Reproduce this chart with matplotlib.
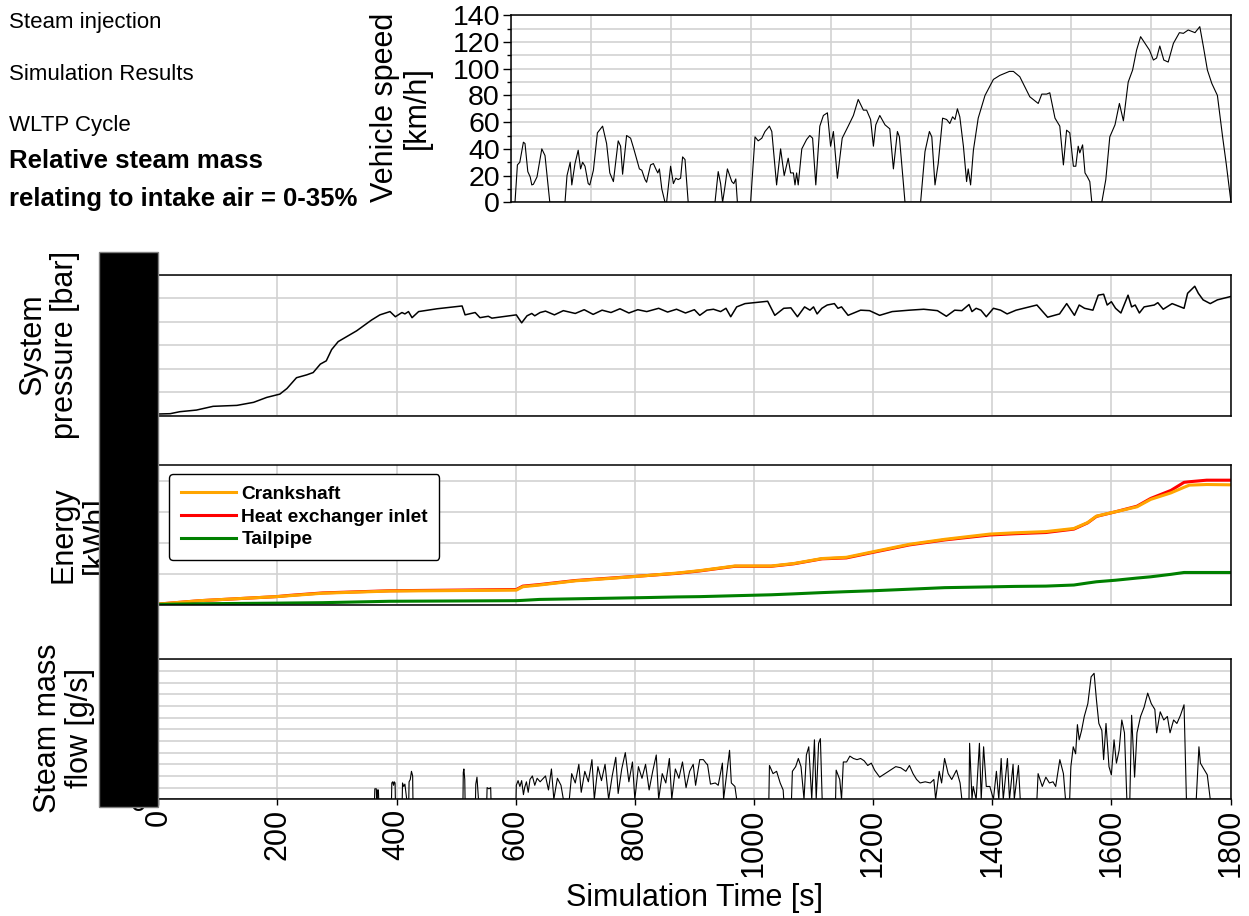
import matplotlib

matplotlib.use("Agg")
import matplotlib.pyplot as plt
from matplotlib.lines import Line2D
from matplotlib.patches import Rectangle
from matplotlib.ticker import MultipleLocator

plt.rcParams["font.family"] = ["Liberation Sans", "DejaVu Sans"]

# ---------------------------------------------------------------------------
# WLTP vehicle speed [km/h]
speed_t = [0, 10, 16, 22, 31, 35, 42, 48, 52, 56, 65, 77, 85, 97, 135, 140, 148, 152, 160, 168,
           174, 179, 185, 193, 197, 206, 216, 229, 239, 247, 256, 268, 274, 279, 289, 299, 307,
           321, 327, 335, 339, 349, 356, 362, 367, 371, 377, 385, 389, 399, 406, 412, 418, 424,
           429, 435, 443, 510, 518, 524, 529, 535, 541, 552, 557, 562, 566, 599, 610, 618, 627,
           635, 646, 652, 664, 674, 683, 693, 699, 706, 710, 714, 718, 727, 739, 747, 754, 762,
           772, 781, 791, 799, 806, 816, 828, 843, 856, 868, 881, 889, 899, 906, 912, 922, 935,
           947, 956, 966, 971, 985, 1024, 1035, 1046, 1052, 1060, 1068, 1079, 1089, 1097, 1104,
           1110, 1116, 1122, 1131, 1139, 1143, 1149, 1156, 1168, 1185, 1206, 1222, 1246, 1256,
           1272, 1297, 1318, 1327, 1339, 1347, 1360, 1368, 1372, 1381, 1389, 1397, 1406, 1412,
           1418, 1422, 1429, 1435, 1441, 1447, 1452, 1477, 1487, 1497, 1510, 1521, 1531, 1543,
           1554, 1564, 1574, 1585, 1596, 1606, 1614, 1622, 1632, 1643, 1656, 1671, 1681, 1693,
           1710, 1722, 1731, 1741, 1752, 1766, 1779, 1788, 1800]
speed_v = [0, 0, 28, 30, 45, 44, 23, 19, 13, 13.5, 19, 40, 35, 0, 0, 20, 30, 13, 29, 39,
           25, 30, 27, 14, 13, 24, 52, 57, 44, 22, 15.5, 46, 42, 21, 50, 48, 40,
           25, 24, 17, 15, 28, 29, 25, 22, 25, 10, 0, 0, 27, 14, 18, 17, 18,
           34, 32, 0, 0, 23, 14, 0, 12, 25, 15.5, 14, 17.5, 0, 0, 49, 46, 48,
           53, 57, 53, 13, 40, 20, 33, 22, 22, 13, 22, 13, 40, 47, 50, 48, 13,
           57, 65, 67, 42, 53, 18, 48, 57, 65, 77, 69, 69, 62, 42, 58, 65, 58,
           55, 25, 53, 49, 0, 0, 38, 53, 49, 13, 29, 63, 62, 59, 64,
           62, 70, 64, 42, 15.5, 25, 13, 39, 63, 80, 92, 95, 98, 98,
           94, 79, 74, 81, 81, 82, 63, 59, 57, 28, 54, 52, 27, 27,
           42, 37, 43, 22, 19, 15.5, 0, 0, 17, 49, 58, 74, 61, 90,
           99, 114, 124, 119, 114, 106.5, 108, 117, 106.5, 105, 119, 127, 126.5, 129,
           127, 131.5, 116.5, 99, 89, 80, 49, 29, 0]

# System pressure [bar]
pressure_t = [0, 20, 36, 64, 92, 132, 160, 182, 204, 216, 232, 249, 260, 272, 282, 291, 302,
              314, 333, 344, 358, 372, 389, 398, 409, 414, 420, 426, 437, 468, 510, 515, 532,
              540, 554, 560, 601, 610, 619, 627, 632, 641, 650, 665, 680, 700, 715, 730, 745,
              760, 775, 790, 805, 820, 840, 855, 870, 885, 900, 909, 921, 932, 944, 953, 961,
              971, 985, 1023, 1035, 1050, 1062, 1073, 1085, 1094, 1100, 1106, 1114, 1123, 1135,
              1141, 1147, 1158, 1179, 1194, 1211, 1232, 1261, 1285, 1308, 1323, 1337, 1349,
              1361, 1366, 1373, 1381, 1390, 1402, 1414, 1425, 1440, 1475, 1493, 1513, 1525,
              1538, 1546, 1555, 1569, 1578, 1587, 1593, 1600, 1607, 1616, 1628, 1634, 1640,
              1647, 1655, 1672, 1678, 1687, 1702, 1722, 1728, 1740, 1746, 1754, 1766, 1778, 1800]
pressure_v = [0.36, 0.43, 0.85, 1.2, 2.0, 2.2, 2.85, 3.9, 4.6, 5.8, 8.1, 8.7, 9.2, 11.0, 11.7,
              14.1, 15.8, 16.7, 18.1, 19.1, 20.4, 21.5, 22.2, 21.1, 22.0, 21.7, 22.2, 20.9, 22.2,
              22.8, 23.4, 21.5, 22.0, 20.9, 21.2, 20.8, 21.5, 19.8, 21.3, 21.8, 21.3, 22.0, 22.3,
              21.5, 22.4, 21.8, 22.6, 21.6, 22.5, 22.0, 22.8, 21.9, 22.6, 22.2, 22.9, 22.1, 22.7,
              21.9, 22.6, 21.4, 22.5, 22.7, 22.2, 22.9, 21.1, 23.2, 23.9, 24.4, 21.4, 22.9, 23.0,
              21.1, 23.2, 22.5, 23.2, 21.7, 22.9, 23.6, 23.9, 22.9, 23.2, 21.4, 22.5, 22.4, 21.4,
              22.2, 22.5, 22.7, 22.4, 21.2, 22.5, 22.4, 23.7, 22.2, 22.9, 22.5, 21.1, 22.9, 22.5,
              21.7, 22.5, 23.6, 21.0, 21.7, 23.9, 21.4, 23.6, 22.9, 22.5, 25.7, 25.9, 23.6, 24.3,
              22.9, 21.9, 25.7, 23.2, 23.6, 21.9, 23.2, 23.6, 24.1, 22.7, 23.9, 22.9, 26.1, 27.6,
              26.1, 24.7, 23.9, 24.7, 25.4]

# Cumulative energy [kWh]
energy_t = [0, 70, 198, 220, 276, 388, 601, 612, 640, 700, 760, 820, 870, 909, 968, 1029, 1067,
            1114, 1155, 1200, 1261, 1320, 1396, 1437, 1490, 1537, 1560, 1575, 1607, 1643, 1666,
            1700, 1722, 1731, 1760, 1800]
crankshaft = [0.03, 0.14, 0.27, 0.30, 0.38, 0.45, 0.48, 0.59, 0.645, 0.78, 0.86, 0.95, 1.03,
              1.11, 1.26, 1.26, 1.34, 1.50, 1.54, 1.72, 1.96, 2.12, 2.29, 2.33, 2.37, 2.47, 2.66,
              2.87, 3.01, 3.17, 3.41, 3.62, 3.80, 3.87, 3.89, 3.88]
hx_inlet = [0.03, 0.14, 0.27, 0.31, 0.39, 0.46, 0.50, 0.61, 0.66, 0.79, 0.87, 0.95, 1.02,
            1.10, 1.25, 1.25, 1.33, 1.49, 1.52, 1.70, 1.94, 2.10, 2.26, 2.30, 2.34, 2.45, 2.65,
            2.86, 3.01, 3.19, 3.44, 3.70, 3.96, 3.98, 4.03, 4.03]
tailpipe = [0.02, 0.04, 0.06, 0.065, 0.075, 0.12, 0.14, 0.15, 0.18, 0.20, 0.22, 0.24, 0.26,
            0.27, 0.30, 0.33, 0.36, 0.40, 0.43, 0.46, 0.51, 0.56, 0.585, 0.60, 0.61, 0.645, 0.71,
            0.75, 0.80, 0.87, 0.91, 0.99, 1.05, 1.05, 1.05, 1.05]

# Steam mass flow [g/s]
steam_t = [0, 363, 363.5, 366, 366.5, 367.5, 368, 369.5, 370, 391.5, 392, 393.5, 395, 396, 397.5,
           398, 409.5, 410, 412, 414, 416, 417, 420.5, 421, 423, 425, 427, 427.5, 511.5, 512,
           513, 514.5, 515, 532.5, 533, 535, 537, 537.5, 551.5, 552, 555, 558, 558.5, 600.5,
           601, 604, 607, 610, 613, 615, 618, 621, 624, 628, 632, 636, 641, 650, 655, 660, 664,
           670, 676, 680, 690, 694, 700, 706, 710, 716, 722, 728, 732, 738, 744, 750, 756, 762,
           768, 772, 778, 784, 790, 796, 800, 806, 812, 818, 824, 830, 836, 840, 846, 852, 858,
           862, 868, 874, 880, 886, 892, 898, 902, 909, 915, 921, 922, 927, 935, 940, 947, 949,
           959, 962, 968, 971, 1025, 1026, 1032, 1038, 1044, 1049, 1050, 1063, 1064.5, 1070,
           1074.5, 1079, 1084, 1088, 1092, 1097, 1101.5, 1104.5, 1108.5, 1111.5, 1114.5, 1137,
           1138, 1144, 1147, 1150, 1155.5, 1161, 1167, 1173, 1179, 1185, 1191, 1197, 1202.5,
           1211, 1220, 1229, 1238, 1246.5, 1255, 1261, 1267, 1273, 1279, 1287.5, 1296, 1302,
           1305, 1311, 1315, 1320, 1326, 1332, 1340, 1346, 1349, 1361, 1362, 1366, 1368, 1373,
           1378.5, 1381.5, 1385.5, 1390, 1396, 1402, 1407, 1411, 1415, 1418.5, 1425.5, 1429,
           1435, 1437, 1444, 1447, 1475, 1477, 1484, 1490, 1496, 1502, 1506.5, 1513.5, 1519.5,
           1523, 1530, 1532, 1536, 1540, 1543, 1546, 1550, 1554.5, 1560.5, 1566, 1571, 1575,
           1579, 1584, 1587, 1591, 1596, 1600, 1604.5, 1608.5, 1613, 1617.5, 1622, 1626, 1631,
           1634, 1639, 1643, 1649, 1655, 1661, 1667, 1673, 1676, 1682, 1688, 1694, 1698.5,
           1704.5, 1710, 1716, 1722, 1726, 1742.5, 1747, 1749.5, 1754, 1761, 1766, 1800]
steam_v = [0, 0, 0.9, 0.9, 0, 0, 0.8, 0.8, 0, 0, 1.4, 1.5, 1.2, 1.5, 1.4,
           0, 0, 1.4, 1.1, 1.3, 0.4, 0, 0, 1.5, 1.7, 2.4, 2.0, 0, 0, 2.3,
           2.6, 1.7, 0, 0, 1.3, 1.9, 0.4, 0, 0, 1.0, 0.9, 1.0, 0, 0,
           1.2, 1.6, 1.1, 1.6, 0.4, 1.0, 1.5, 0.6, 1.7, 2.0, 1.2, 1.8, 1.5, 2.0, 0.8, 2.6, 0,
           1.8, 1.2, 0, 0, 2.2, 1.4, 3.0, 0.6, 2.4, 1.5, 3.4, 0, 2.8, 1.6, 3.0, 0, 2.0,
           3.6, 0.5, 2.6, 4.0, 1.5, 3.2, 0, 2.8, 1.8, 3.0, 0.8, 2.4, 3.8, 0, 2.2, 1.4, 3.5,
           0, 2.6, 1.8, 3.2, 1.0, 2.4, 3.0, 1.2, 3.4, 3.4, 3.0, 3.0, 1.3, 1.4, 1.2, 3.1, 0,
           4.2, 1.4, 1.1, 0, 0, 2.9, 2.2, 2.4, 1.4, 0.8, 0, 0, 2.4, 2.8,
           3.5, 2.8, 0, 3.8, 4.5, 0, 5.1, 0, 4.8, 5.2, 0, 0,
           2.5, 1.7, 0, 3.2, 3.2, 3.7, 3.5, 3.4, 3.5, 3.3, 2.9, 3.1, 2.5,
           1.9, 2.2, 2.5, 2.8, 2.7, 2.4, 2.9, 2.2, 1.7, 1.4, 1.5, 1.4, 1.7,
           0, 2.4, 1.4, 3.5, 2.2, 1.7, 2.5, 1.4, 0, 0, 4.8, 0, 1.1, 0,
           4.8, 0, 4.5, 1.1, 1.1, 0, 2.4, 0, 3.5, 0, 3.5, 0,
           3.0, 0, 2.9, 0, 0, 2.2, 1.1, 1.9, 1.4, 1.5, 1.1, 3.4, 2.2,
           0, 0, 2.8, 4.5, 3.9, 6.4, 5.1, 5.9, 7.1, 8.2, 10.5, 10.8, 8.5,
           6.5, 5.9, 3.4, 6.5, 2.8, 2.1, 5.1, 3.1, 4.2, 6.8, 5.7, 0, 0,
           7.2, 1.9, 5.7, 7.1, 7.9, 9.1, 8.2, 7.7, 5.7, 7.5, 6.8, 7.1, 5.7,
           6.8, 6.5, 7.2, 8.1, 0, 0, 4.5, 3.1, 2.7, 2.1, 0, 0]

W, H = 1249, 916
GRID_KW = dict(color="#d2d2d2", linewidth=1.2)


def panel(fig, left, top, right, bottom):
    """Add an axes given its pixel box on the canvas."""
    return fig.add_axes([left / W, 1 - bottom / H, (right - left) / W, (bottom - top) / H])


def style(ax, ymax, ystep, yminor=None, labelsize=22):
    ax.set_xlim(0, 1800)
    ax.set_ylim(0, ymax)
    ax.xaxis.set_major_locator(MultipleLocator(200))
    ax.yaxis.set_major_locator(MultipleLocator(ystep))
    if yminor:
        ax.yaxis.set_minor_locator(MultipleLocator(yminor))
    ax.grid(True, which="both", **GRID_KW)
    ax.set_axisbelow(True)
    for spine in ax.spines.values():
        spine.set_linewidth(1.1)
        spine.set_color("black")
    ax.tick_params(axis="x", bottom=False, labelbottom=False)
    ax.tick_params(axis="y", which="major", length=6, width=1, pad=2, labelsize=labelsize)
    ax.tick_params(axis="y", which="minor", length=3, width=1)


fig = plt.figure(figsize=(W / 100, H / 100), dpi=100)

# header text
fig.text(9 / W, 1 - 28 / H, "Steam injection", fontsize=16, va="baseline")
fig.text(9 / W, 1 - 80 / H, "Simulation Results", fontsize=16, va="baseline")
fig.text(9 / W, 1 - 131 / H, "WLTP Cycle", fontsize=16, va="baseline")
fig.text(9 / W, 1 - 168 / H, "Relative steam mass", fontsize=18.5, fontweight="bold",
         va="baseline")
fig.text(9 / W, 1 - 206 / H, "relating to intake air = 0-35%", fontsize=18.5,
         fontweight="bold", va="baseline")

# vehicle speed
ax_s = panel(fig, 511, 15.3, 1231, 202.3)
style(ax_s, 140, 20, 10, labelsize=20.5)
ax_s.plot(speed_t, speed_v, color="black", linewidth=0.8)
fig.text(401 / W, 1 - 107.5 / H, "Vehicle speed\n[km/h]", fontsize=22, rotation=90,
         ha="center", va="center", linespacing=1.1)

# system pressure
ax_p = panel(fig, 158.3, 275, 1230.5, 415.7)
style(ax_p, 30, 10, 5)
ax_p.plot(pressure_t, pressure_v, color="black", linewidth=1.1)
fig.text(48.5 / W, 1 - 344.5 / H, "System\npressure [bar]", fontsize=22, rotation=90,
         ha="center", va="center", linespacing=1.1)

# energy
ax_e = panel(fig, 158.3, 465, 1230.5, 605)
style(ax_e, 4.52, 2, 1)
ax_e.plot(energy_t, hx_inlet, color="#ff0000", linewidth=2.2)
ax_e.plot(energy_t, crankshaft, color="#ffa500", linewidth=2.2)
ax_e.plot(energy_t, tailpipe, color="#008000", linewidth=2.2)
fig.text(80 / W, 1 - 535 / H, "Energy\n[kWh]", fontsize=22, rotation=90,
         ha="center", va="center", linespacing=1.1)
handles = [Line2D([], [], color="#ffa500", linewidth=2.2),
           Line2D([], [], color="#ff0000", linewidth=2.2),
           Line2D([], [], color="#008000", linewidth=2.2)]
leg = ax_e.legend(handles, ["Crankshaft", "Heat exchanger inlet", "Tailpipe"],
                  loc="upper left", bbox_to_anchor=(169.3 / W, 1 - 474 / H),
                  bbox_transform=fig.transFigure, prop={"weight": "bold", "size": 13.8},
                  frameon=True, fancybox=True, framealpha=1, edgecolor="black",
                  handlelength=2.86, handletextpad=0.3, labelspacing=0.28, borderpad=0.6,
                  borderaxespad=0)
leg.get_frame().set_linewidth(1.0)

# steam mass flow
ax_m = panel(fig, 158.3, 659.3, 1230.5, 799.3)
style(ax_m, 12, 4, 1)
ax_m.plot(steam_t, steam_v, color="black", linewidth=0.8)
ax_m.tick_params(axis="x", bottom=True, labelbottom=True, labelrotation=90, labelsize=22,
                 length=4, width=1, pad=3)
fig.text(64 / W, 1 - 728 / H, "Steam mass\nflow [g/s]", fontsize=22, rotation=90,
         ha="center", va="center", linespacing=1.1)
fig.text(694.4 / W, 1 - 898 / H, "Simulation Time [s]", fontsize=22, ha="center", va="center")

# masked y-axis tick area
fig.add_artist(Rectangle((99.3 / W, 1 - 807.3 / H), 58.4 / W, 555 / H,
                         transform=fig.transFigure, facecolor="black", edgecolor="#808080",
                         linewidth=1, zorder=10))

fig.savefig("out.png", dpi=100)
